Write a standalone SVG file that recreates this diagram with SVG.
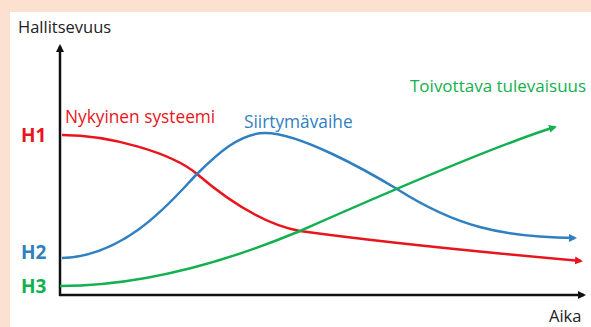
<svg xmlns="http://www.w3.org/2000/svg" width="591" height="327" viewBox="0 0 591 327">
<style>
.t{font-family:"Open Sans","Liberation Sans",sans-serif}
.h{font-family:"Open Sans","Liberation Sans",sans-serif;font-weight:bold;font-size:19px}
.c{fill:none;stroke-width:2.5}
</style>
<defs>
<marker id="ak" markerWidth="8" markerHeight="8" refX="6" refY="4" orient="auto" markerUnits="userSpaceOnUse"><path d="M0,0 L8,4 L0,8 Z" fill="#111"/></marker>
<marker id="ar" markerWidth="8" markerHeight="8" refX="6" refY="4" orient="auto" markerUnits="userSpaceOnUse"><path d="M0,0 L8,4 L0,8 Z" fill="#e8161c"/></marker>
<marker id="ab" markerWidth="8" markerHeight="8" refX="6" refY="4" orient="auto" markerUnits="userSpaceOnUse"><path d="M0,0 L8,4 L0,8 Z" fill="#2f7fc1"/></marker>
<marker id="ag" markerWidth="8" markerHeight="8" refX="6" refY="4" orient="auto" markerUnits="userSpaceOnUse"><path d="M0,0 L8,4 L0,8 Z" fill="#12b04e"/></marker>
</defs>
<rect x="0" y="0" width="591" height="327" fill="#fde1d0"/>
<rect x="10" y="12" width="581" height="315" fill="#ffffff"/>
<g id="axes">
<line x1="60" y1="296" x2="60" y2="46" stroke="#111" stroke-width="2.5" marker-end="url(#ak)"/>
<line x1="59" y1="295" x2="584" y2="295" stroke="#111" stroke-width="2.5" marker-end="url(#ak)"/>
<text class="t" x="18" y="33" font-size="16.5" fill="#222">Hallitsevuus</text>
<text class="t" x="549" y="322" font-size="16.5" fill="#222">Aika</text>
</g>
<g id="labels">
<text class="h" x="21" y="142" fill="#e8161c">H1</text>
<text class="h" x="21" y="259" fill="#2f7fc1">H2</text>
<text class="h" x="21" y="293" fill="#12b04e">H3</text>
</g>
<g id="connectors">
<path id="red" class="c" stroke="#e8161c" marker-end="url(#ar)" d="M62,135 C110,135 172,153 197,174 C225,198 262,224 300,231 C380,242 480,252 581,261"/>
<path id="blue" class="c" stroke="#2f7fc1" marker-end="url(#ab)" d="M62,258 C130,256 178,193 197,174 C217,154 240,133 265,133 C300,133 367,171 397,189 C455,226 500,237 575,238"/>
<path id="green" class="c" stroke="#12b04e" marker-end="url(#ag)" d="M60,286 C150,286 240,256 300,231 C395,189 500,144 555,127"/>
</g>
<g id="curve-labels">
<text class="t" x="65" y="123" font-size="17.3" fill="#e8161c">Nykyinen systeemi</text>
<text class="t" x="244" y="128" font-size="17.3" fill="#2f7fc1">Siirtymävaihe</text>
<text class="t" x="410" y="92" font-size="17" fill="#12b04e">Toivottava tulevaisuus</text>
</g>
</svg>
